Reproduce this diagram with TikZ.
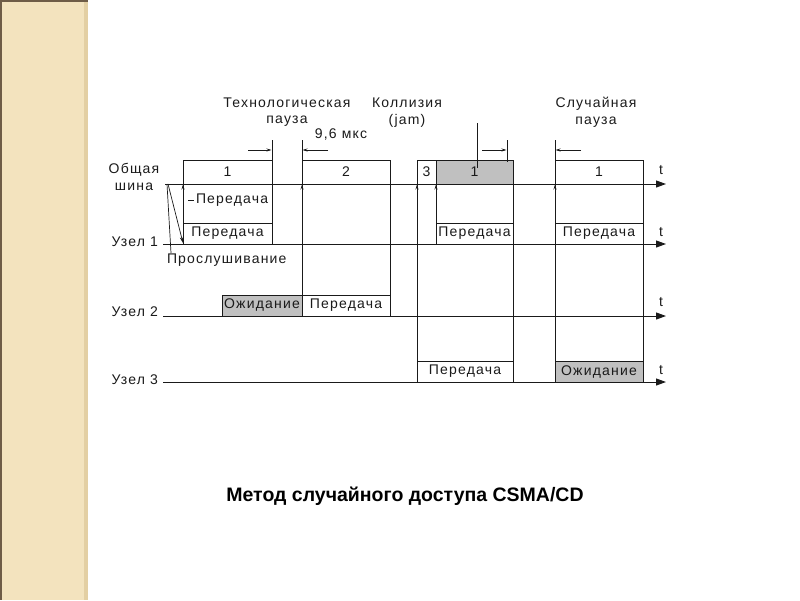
\documentclass[tikz,border=0pt]{standalone}
\usepackage{fontspec}
\setmainfont{Liberation Sans}
\newfontfamily\spaced[LetterSpace=8.5]{Liberation Sans}
\usetikzlibrary{arrows.meta}
\definecolor{panel}{HTML}{F3E3BE}
\definecolor{paneledge}{HTML}{E3CFA3}
\definecolor{paneldark}{HTML}{6E5C47}
\definecolor{waitgray}{HTML}{C0C0C0}
\definecolor{ink}{HTML}{1A1A1A}
\begin{document}
\begin{tikzpicture}[x=1pt,y=-1pt,line width=0.9pt,draw=ink,
  lbl/.style={font=\spaced\fontsize{14}{15}\selectfont,inner sep=0pt,outer sep=0pt,text=ink},
  box/.style={draw=ink,lbl,anchor=south west,minimum height=21pt,line width=0.9pt},
  bbox/.style={draw=ink,lbl,anchor=south west,minimum height=24pt,line width=0.9pt},
  axis/.style={line width=1pt,-{Triangle[length=10pt,width=7pt]}},
  tick/.style={-{Stealth[length=5pt,width=3pt]},line width=0.7pt},
  thinl/.style={line width=0.7pt}]
\useasboundingbox (0,0) rectangle (800,600);
% left panel
\fill[panel] (0,0) rectangle (88,600);
\fill[paneledge] (84,0) rectangle (88,600);
\fill[paneldark] (0,0) rectangle (2,600);
\fill[paneldark] (0,0) rectangle (88,1.5);

% axes
\coordinate (b0) at (165,184); \coordinate (b1) at (666,184);
\coordinate (u10) at (163,244); \coordinate (u11) at (666,244);
\coordinate (u20) at (163,316); \coordinate (u21) at (666,316);
\coordinate (u30) at (163,382); \coordinate (u31) at (666,382);
\draw[axis] (b0) -- (b1);
\draw[axis] (u10) -- (u11);
\draw[axis] (u20) -- (u21);
\draw[axis] (u30) -- (u31);

% left labels
\node[lbl] (lbus1) at (134,170) {Общая};
\node[lbl] (lbus2) at (134,187) {шина};
\node[lbl,anchor=east] (lu1) at (158,242) {Узел 1};
\node[lbl,anchor=east] (lu2) at (158,312) {Узел 2};
\node[lbl,anchor=east] (lu3) at (158,380) {Узел 3};
\node[lbl] (t0) at (661,170) {t};
\node[lbl] (t1) at (661,232) {t};
\node[lbl] (t2) at (661,302) {t};
\node[lbl] (t3) at (661,370) {t};

% bus frames
\node[bbox,minimum width=89pt] (f1) at (183,184) {1};
\node[bbox,minimum width=88pt] (f2) at (302,184) {2};
\node[bbox,minimum width=19pt] (f3) at (417,184) {3};
\node[bbox,minimum width=77pt,fill=waitgray] (f4) at (436,184) {1};
\node[bbox,minimum width=88pt] (f5) at (555,184) {1};

% node boxes
\node[box,minimum width=89pt] (n1a) at (183,244) {Передача};
\node[box,minimum width=77pt] (n1b) at (436,244) {Передача};
\node[box,minimum width=88pt] (n1c) at (555,244) {Передача};
\node[box,minimum width=80pt,fill=waitgray] (n2a) at (222,316) {Ожидание};
\node[box,minimum width=88pt] (n2b) at (302,316) {Передача};
\node[box,minimum width=96pt] (n3a) at (417,382) {Передача};
\node[box,minimum width=88pt,fill=waitgray] (n3b) at (555,382) {Ожидание};

% vertical lines
\draw (183,160) -- (183,244);
\draw (272,140) -- (272,244);
\draw (302,140) -- (302,316);
\draw (390,160) -- (390,316);
\draw (417,160) -- (417,382);
\draw (436,184) -- (436,244);
\draw (513,160) -- (513,382);
\draw (555,140) -- (555,382);
\draw (643,160) -- (643,382);
\draw[thinl] (507,140) -- (507,162);
\draw[thinl] (477,123) -- (477,168);

% small up ticks on bus
\foreach \xx in {183,302,417,436,555} \draw[tick] (\xx,192) -- (\xx,184.5);

% pause arrows
\draw[tick] (248,150) -- (271.5,150);
\draw[tick] (328,150) -- (302.5,150);
\draw[tick] (482,150) -- (506.5,150);
\draw[tick] (581,150) -- (555.5,150);

% top labels
\node[lbl] (tp1) at (287,103) {Технологическая};
\node[lbl] (tp2) at (287,121) {пауза};
\node[lbl] (col1) at (407,103) {Коллизия};
\node[lbl] (col2) at (407,121) {(jam)};
\node[lbl] (mks) at (341,135) {9,6 мкс};
\node[lbl] (rp1) at (596,104) {Случайная};
\node[lbl] (rp2) at (596,122) {пауза};

% listening / transmit
\node[lbl,anchor=west] (tx) at (196,200) {Передача};
\draw[thinl] (188,200.5) -- (194,200.5);
\node[lbl,anchor=west] (lis) at (167,260) {Прослушивание};
\draw[thinl] (167,184) -- (171,253);
\draw[-{Stealth[length=6pt,width=3.5pt]},line width=0.7pt] (168,184) -- (183,243);

% title
\node[font=\bfseries\fontsize{19.5}{21}\selectfont,inner sep=0pt,text=black] (title) at (405,496) {Метод случайного доступа CSMA/CD};
\end{tikzpicture}
\end{document}
